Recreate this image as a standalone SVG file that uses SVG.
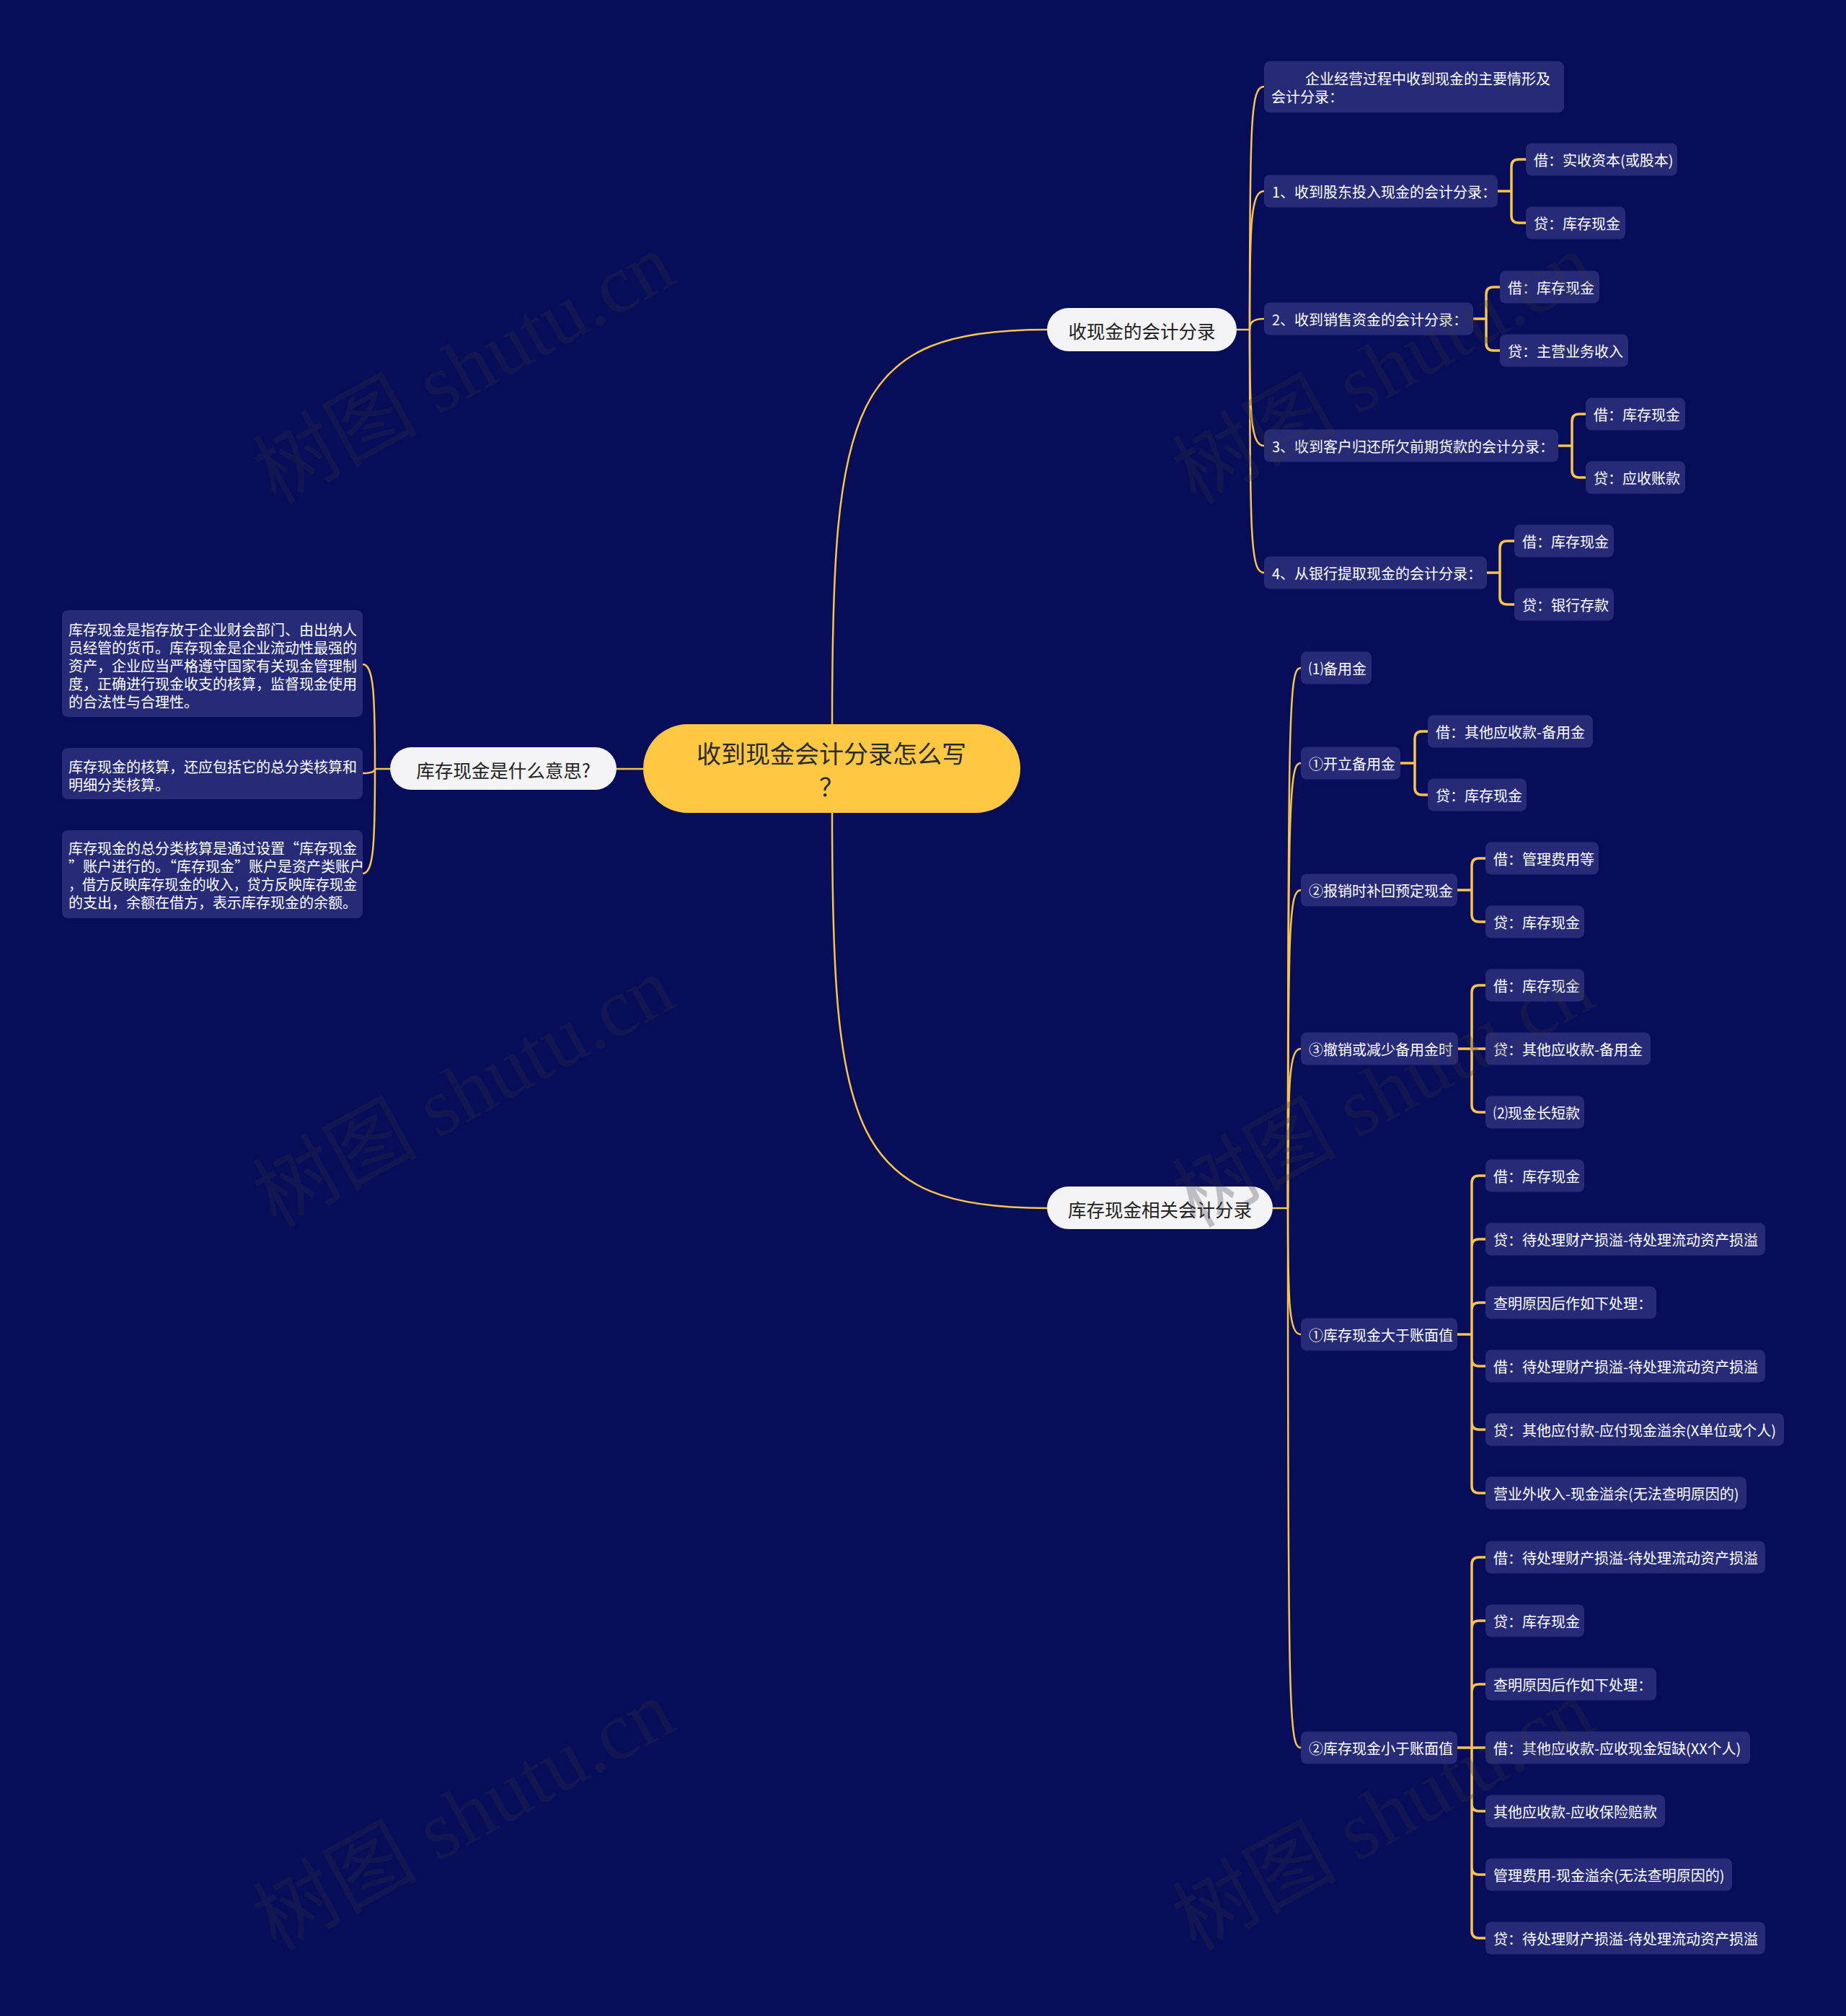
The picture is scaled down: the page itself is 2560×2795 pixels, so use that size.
<svg xmlns="http://www.w3.org/2000/svg" width="2560" height="2795" viewBox="0 0 2560 2795">
<style>
.t{font-family:"Noto Sans CJK SC","Noto Sans",sans-serif;font-size:20px;fill:#ffffff;dominant-baseline:central}
.b{fill:#272B77}
.n{fill:#F4F4F6}
.nt{font-family:"Noto Sans CJK SC","Noto Sans",sans-serif;font-size:25.5px;fill:#222222;text-anchor:middle;dominant-baseline:central}
.rt{font-family:"Noto Sans CJK SC","Noto Sans",sans-serif;font-size:34px;fill:#2a2a2a;text-anchor:middle;dominant-baseline:central}
.l1{fill:none;stroke:#F7C549;stroke-width:2.5}
.l2{fill:none;stroke:#F7C549;stroke-width:3.5}
.wm{font-family:"Liberation Serif","Noto Sans CJK SC",serif;font-size:114px;fill:#333340;opacity:0.28;text-anchor:middle}
</style>
<rect x="0" y="0" width="2560" height="2795" fill="#070D59"/>

<g id="connectors">
  <path class="l1" d="M1154,1004 C1154,560 1180,457 1452,457"/>
  <path class="l1" d="M1154,1127 C1154,1570 1180,1675 1452,1675"/>
  <path class="l1" d="M892,1066 H855"/>
  <path class="l1" d="M541,1066 H520"/>
  <path class="l1" d="M520,1066 C520,961 518,921 503,921"/>
  <path class="l1" d="M520,1066 C520,1069 518,1072 503,1072"/>
  <path class="l1" d="M520,1066 C520,1171 518,1211 503,1211"/>
  <path class="l1" d="M1715,457 H1733"/>
  <path class="l1" d="M1733,457 C1733,160 1735,120 1753,120"/>
  <path class="l1" d="M1733,457 C1733,305 1735,265 1753,265"/>
  <path class="l1" d="M1733,457 C1733,449 1735,442 1753,442"/>
  <path class="l1" d="M1733,457 C1733,578 1735,618 1753,618"/>
  <path class="l1" d="M1733,457 C1733,754 1735,794 1753,794"/>
  <path class="l1" d="M1765,1675 H1786"/>
  <path class="l1" d="M1786,1675 C1786,966 1788,926 1804,926"/>
  <path class="l1" d="M1786,1675 C1786,1098 1788,1058 1804,1058"/>
  <path class="l1" d="M1786,1675 C1786,1274 1788,1234 1804,1234"/>
  <path class="l1" d="M1786,1675 C1786,1494 1788,1454 1804,1454"/>
  <path class="l1" d="M1786,1675 C1786,1810 1788,1850 1804,1850"/>
  <path class="l1" d="M1786,1675 C1786,2383 1788,2423 1804,2423"/>
  <path class="l2" d="M2077,265 H2096 M2096,265 V231 Q2096,221 2106,221 H2116 M2096,265 V299 Q2096,309 2106,309 H2116"/>
  <path class="l2" d="M2042,442 H2061 M2061,442 V408 Q2061,398 2071,398 H2080 M2061,442 V476 Q2061,486 2071,486 H2080"/>
  <path class="l2" d="M2161,618 H2180 M2180,618 V584 Q2180,574 2190,574 H2199 M2180,618 V652 Q2180,662 2190,662 H2199"/>
  <path class="l2" d="M2062,794 H2080 M2080,794 V760 Q2080,750 2090,750 H2100 M2080,794 V828 Q2080,838 2090,838 H2100"/>
  <path class="l2" d="M1942,1058 H1962 M1962,1058 V1024 Q1962,1014 1972,1014 H1980 M1962,1058 V1092 Q1962,1102 1972,1102 H1980"/>
  <path class="l2" d="M2021,1234 H2041 M2041,1234 V1200 Q2041,1190 2051,1190 H2060 M2041,1234 V1268 Q2041,1278 2051,1278 H2060"/>
  <path class="l2" d="M2022,1454 H2060 M2041,1454 V1376 Q2041,1366 2051,1366 H2060 M2041,1454 V1532 Q2041,1542 2051,1542 H2060"/>
  <path class="l2" d="M2021,1850 H2041 M2041,1850 V1640 Q2041,1630 2051,1630 H2060 M2041,1850 V1728 Q2041,1718 2051,1718 H2060 M2041,1850 V1816 Q2041,1806 2051,1806 H2060 M2041,1850 V1884 Q2041,1894 2051,1894 H2060 M2041,1850 V1972 Q2041,1982 2051,1982 H2060 M2041,1850 V2060 Q2041,2070 2051,2070 H2060"/>
  <path class="l2" d="M2021,2423 H2060 M2041,2423 V2169 Q2041,2159 2051,2159 H2060 M2041,2423 V2257 Q2041,2247 2051,2247 H2060 M2041,2423 V2345 Q2041,2335 2051,2335 H2060 M2041,2423 V2501 Q2041,2511 2051,2511 H2060 M2041,2423 V2589 Q2041,2599 2051,2599 H2060 M2041,2423 V2677 Q2041,2687 2051,2687 H2060"/>
</g>

<g id="root">
  <rect x="892" y="1004" width="523" height="123" rx="61.5" fill="#FFC843"/>
  <text class="rt" x="1153" y="1043">收到现金会计分录怎么写</text>
  <text class="rt" x="1153" y="1089">？</text>
</g>

<g id="n-left">
  <rect class="n" x="541" y="1036" width="314" height="59" rx="29.5"/>
  <text class="nt" x="698" y="1066">库存现金是什么意思?</text>
</g>
<g id="n-left-1">
  <rect class="b" x="86" y="846" width="417" height="148" rx="8"/>
  <text class="t" x="95" y="872">库存现金是指存放于企业财会部门、由出纳人</text>
  <text class="t" x="95" y="897">员经管的货币。库存现金是企业流动性最强的</text>
  <text class="t" x="95" y="922">资产，企业应当严格遵守国家有关现金管理制</text>
  <text class="t" x="95" y="947">度，正确进行现金收支的核算，监督现金使用</text>
  <text class="t" x="95" y="972">的合法性与合理性。</text>
</g>
<g id="n-left-2">
  <rect class="b" x="86" y="1037" width="417" height="71" rx="8"/>
  <text class="t" x="95" y="1062">库存现金的核算，还应包括它的总分类核算和</text>
  <text class="t" x="95" y="1087">明细分类核算。</text>
</g>
<g id="n-left-3">
  <rect class="b" x="86" y="1151" width="417" height="122" rx="8"/>
  <text class="t" x="95" y="1175">库存现金的总分类核算是通过设置“库存现金</text>
  <text class="t" x="95" y="1200">”账户进行的。“库存现金”账户是资产类账户</text>
  <text class="t" x="95" y="1225" textLength="400" lengthAdjust="spacingAndGlyphs">，借方反映库存现金的收入，贷方反映库存现金</text>
  <text class="t" x="95" y="1250">的支出，余额在借方，表示库存现金的余额。</text>
</g>

<g id="n-up">
  <rect class="n" x="1452" y="427" width="263" height="60" rx="30"/>
  <text class="nt" x="1583.5" y="457">收现金的会计分录</text>
</g>
<g id="n-up-0">
  <rect class="b" x="1753" y="85" width="416" height="71" rx="8"/>
  <text class="t" x="1810" y="108">企业经营过程中收到现金的主要情形及</text>
  <text class="t" x="1763" y="133">会计分录：</text>
</g>
<g id="n-up-1">
  <rect class="b" x="1753" y="242.5" width="324" height="45" rx="8"/>
  <text class="t" x="1764" y="265">1、收到股东投入现金的会计分录：</text>
</g>
<g id="n-up-1a"><rect class="b" x="2116" y="198.5" width="210" height="45" rx="8"/><text class="t" x="2127" y="221">借：实收资本(或股本)</text></g>
<g id="n-up-1b"><rect class="b" x="2116" y="286.5" width="138" height="45" rx="8"/><text class="t" x="2127" y="309">贷：库存现金</text></g>
<g id="n-up-2">
  <rect class="b" x="1753" y="419.5" width="290" height="45" rx="8"/>
  <text class="t" x="1764" y="442">2、收到销售资金的会计分录：</text>
</g>
<g id="n-up-2a"><rect class="b" x="2080" y="375.5" width="138" height="45" rx="8"/><text class="t" x="2091" y="398">借：库存现金</text></g>
<g id="n-up-2b"><rect class="b" x="2080" y="463.5" width="178" height="45" rx="8"/><text class="t" x="2091" y="486">贷：主营业务收入</text></g>
<g id="n-up-3">
  <rect class="b" x="1753" y="595.5" width="408" height="45" rx="8"/>
  <text class="t" x="1764" y="618">3、收到客户归还所欠前期货款的会计分录：</text>
</g>
<g id="n-up-3a"><rect class="b" x="2199" y="551.5" width="138" height="45" rx="8"/><text class="t" x="2210" y="574">借：库存现金</text></g>
<g id="n-up-3b"><rect class="b" x="2199" y="639.5" width="138" height="45" rx="8"/><text class="t" x="2210" y="662">贷：应收账款</text></g>
<g id="n-up-4">
  <rect class="b" x="1753" y="771.5" width="309" height="45" rx="8"/>
  <text class="t" x="1764" y="794">4、从银行提取现金的会计分录：</text>
</g>
<g id="n-up-4a"><rect class="b" x="2100" y="727.5" width="138" height="45" rx="8"/><text class="t" x="2111" y="750">借：库存现金</text></g>
<g id="n-up-4b"><rect class="b" x="2100" y="815.5" width="138" height="45" rx="8"/><text class="t" x="2111" y="838">贷：银行存款</text></g>

<g id="n-low">
  <rect class="n" x="1452" y="1645" width="313" height="59" rx="29.5"/>
  <text class="nt" x="1608.5" y="1675">库存现金相关会计分录</text>
</g>
<g id="n-low-0"><rect class="b" x="1804" y="903.5" width="98" height="45" rx="8"/><text class="t" x="1815" y="926">⑴备用金</text></g>
<g id="n-low-1"><rect class="b" x="1804" y="1035.5" width="138" height="45" rx="8"/><text class="t" x="1815" y="1058">①开立备用金</text></g>
<g id="n-low-1a"><rect class="b" x="1980" y="991.5" width="229" height="45" rx="8"/><text class="t" x="1991" y="1014">借：其他应收款-备用金</text></g>
<g id="n-low-1b"><rect class="b" x="1980" y="1079.5" width="137" height="45" rx="8"/><text class="t" x="1991" y="1102">贷：库存现金</text></g>
<g id="n-low-2"><rect class="b" x="1804" y="1211.5" width="217" height="45" rx="8"/><text class="t" x="1815" y="1234">②报销时补回预定现金</text></g>
<g id="n-low-2a"><rect class="b" x="2060" y="1167.5" width="157" height="45" rx="8"/><text class="t" x="2071" y="1190">借：管理费用等</text></g>
<g id="n-low-2b"><rect class="b" x="2060" y="1255.5" width="137" height="45" rx="8"/><text class="t" x="2071" y="1278">贷：库存现金</text></g>
<g id="n-low-3"><rect class="b" x="1804" y="1431.5" width="218" height="45" rx="8"/><text class="t" x="1815" y="1454">③撤销或减少备用金时</text></g>
<g id="n-low-3a"><rect class="b" x="2060" y="1343.5" width="137" height="45" rx="8"/><text class="t" x="2071" y="1366">借：库存现金</text></g>
<g id="n-low-3b"><rect class="b" x="2060" y="1431.5" width="229" height="45" rx="8"/><text class="t" x="2071" y="1454">贷：其他应收款-备用金</text></g>
<g id="n-low-3c"><rect class="b" x="2060" y="1519.5" width="137" height="45" rx="8"/><text class="t" x="2071" y="1542">⑵现金长短款</text></g>
<g id="n-low-4"><rect class="b" x="1804" y="1827.5" width="217" height="45" rx="8"/><text class="t" x="1815" y="1850">①库存现金大于账面值</text></g>
<g id="n-low-4a"><rect class="b" x="2060" y="1607.5" width="137" height="45" rx="8"/><text class="t" x="2071" y="1630">借：库存现金</text></g>
<g id="n-low-4b"><rect class="b" x="2060" y="1695.5" width="388" height="45" rx="8"/><text class="t" x="2071" y="1718">贷：待处理财产损溢-待处理流动资产损溢</text></g>
<g id="n-low-4c"><rect class="b" x="2060" y="1783.5" width="237" height="45" rx="8"/><text class="t" x="2071" y="1806">查明原因后作如下处理：</text></g>
<g id="n-low-4d"><rect class="b" x="2060" y="1871.5" width="388" height="45" rx="8"/><text class="t" x="2071" y="1894">借：待处理财产损溢-待处理流动资产损溢</text></g>
<g id="n-low-4e"><rect class="b" x="2060" y="1959.5" width="414" height="45" rx="8"/><text class="t" x="2071" y="1982">贷：其他应付款-应付现金溢余(X单位或个人)</text></g>
<g id="n-low-4f"><rect class="b" x="2060" y="2047.5" width="362" height="45" rx="8"/><text class="t" x="2071" y="2070">营业外收入-现金溢余(无法查明原因的)</text></g>
<g id="n-low-5"><rect class="b" x="1804" y="2400.5" width="217" height="45" rx="8"/><text class="t" x="1815" y="2423">②库存现金小于账面值</text></g>
<g id="n-low-5a"><rect class="b" x="2060" y="2136.5" width="388" height="45" rx="8"/><text class="t" x="2071" y="2159">借：待处理财产损溢-待处理流动资产损溢</text></g>
<g id="n-low-5b"><rect class="b" x="2060" y="2224.5" width="137" height="45" rx="8"/><text class="t" x="2071" y="2247">贷：库存现金</text></g>
<g id="n-low-5c"><rect class="b" x="2060" y="2312.5" width="237" height="45" rx="8"/><text class="t" x="2071" y="2335">查明原因后作如下处理：</text></g>
<g id="n-low-5d"><rect class="b" x="2060" y="2400.5" width="367" height="45" rx="8"/><text class="t" x="2071" y="2423">借：其他应收款-应收现金短缺(XX个人)</text></g>
<g id="n-low-5e"><rect class="b" x="2060" y="2488.5" width="249" height="45" rx="8"/><text class="t" x="2071" y="2511">其他应收款-应收保险赔款</text></g>
<g id="n-low-5f"><rect class="b" x="2060" y="2576.5" width="342" height="45" rx="8"/><text class="t" x="2071" y="2599">管理费用-现金溢余(无法查明原因的)</text></g>
<g id="n-low-5g"><rect class="b" x="2060" y="2664.5" width="388" height="45" rx="8"/><text class="t" x="2071" y="2687">贷：待处理财产损溢-待处理流动资产损溢</text></g>

<g id="watermarks">
  <text class="wm" x="662" y="545" transform="rotate(-29 662 545)">树图 shutu.cn</text>
  <text class="wm" x="662" y="1548" transform="rotate(-29 662 1548)">树图 shutu.cn</text>
  <text class="wm" x="662" y="2551" transform="rotate(-29 662 2551)">树图 shutu.cn</text>
  <text class="wm" x="1937" y="545" transform="rotate(-29 1937 545)">树图 shutu.cn</text>
  <text class="wm" x="1937" y="1548" transform="rotate(-29 1937 1548)">树图 shutu.cn</text>
  <text class="wm" x="1937" y="2551" transform="rotate(-29 1937 2551)">树图 shutu.cn</text>
</g>
</svg>
